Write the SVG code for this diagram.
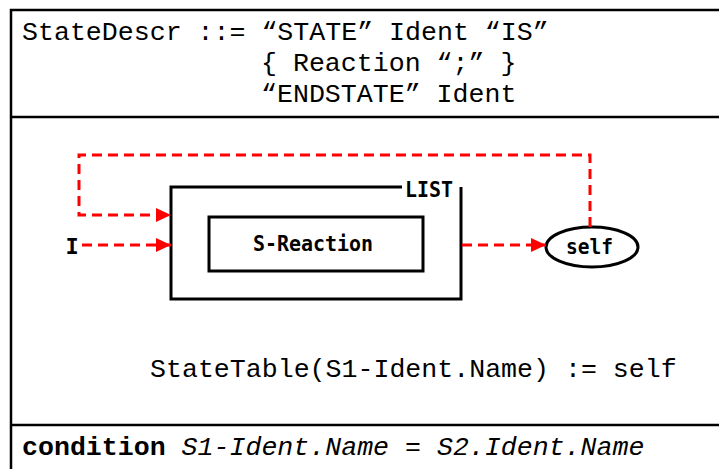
<svg xmlns="http://www.w3.org/2000/svg" width="719" height="469" viewBox="0 0 719 469">
  <defs>
    <style>
      .frame { fill: none; stroke: #000; stroke-width: 2.5; }
      .box { fill: none; stroke: #000; stroke-width: 3; }
      .flow { fill: none; stroke: #ff0000; stroke-width: 3; stroke-dasharray: 10 6; }
      .code { font-family: "Liberation Mono", "Courier New", monospace; font-size: 26.6px; fill: #000; }
      .lbl { font-family: "DejaVu Sans Mono", "Liberation Mono", monospace; font-weight: bold; font-size: 22px; fill: #000; }
    </style>
    <marker id="arrow" markerUnits="userSpaceOnUse" markerWidth="16" markerHeight="16" refX="15" refY="7" orient="auto">
      <path d="M0,0 L15,7 L0,14 Z" fill="#ff0000"/>
    </marker>
  </defs>

  <rect width="719" height="469" fill="#fff"/>

  <!-- outer frame with section dividers -->
  <g id="frame">
    <path class="frame" d="M730,10 H11 V480"/>
    <line class="frame" x1="11" y1="117" x2="730" y2="117"/>
    <line class="frame" x1="11" y1="425" x2="730" y2="425"/>
  </g>

  <!-- grammar rule -->
  <g id="rule">
    <text class="code" x="22" y="40" xml:space="preserve">StateDescr ::= “STATE” Ident “IS”</text>
    <text class="code" x="261" y="71" xml:space="preserve">{ Reaction “;” }</text>
    <text class="code" x="261" y="102" xml:space="preserve">“ENDSTATE” Ident</text>
  </g>

  <!-- LIST container -->
  <g id="list">
    <path class="box" d="M402,187 H171 V299 H461 V187"/>
    <text class="lbl" x="405" y="197" textLength="48" lengthAdjust="spacingAndGlyphs">LIST</text>
  </g>

  <!-- S-Reaction node -->
  <g id="s-reaction">
    <rect class="box" x="209" y="217" width="214" height="54"/>
    <text class="lbl" x="253" y="251" textLength="120" lengthAdjust="spacingAndGlyphs">S-Reaction</text>
  </g>

  <!-- self node -->
  <g id="self">
    <ellipse class="box" cx="592" cy="247" rx="46" ry="20"/>
    <text class="lbl" x="566" y="254" textLength="47" lengthAdjust="spacingAndGlyphs">self</text>
  </g>

  <!-- input label -->
  <g id="input">
    <text class="lbl" x="72" y="254" text-anchor="middle">I</text>
  </g>

  <!-- connectors -->
  <g id="connectors">
    <path class="flow" d="M590,227 V155 H79 V215 H171" marker-end="url(#arrow)"/>
    <path class="flow" d="M82,245 H171" marker-end="url(#arrow)"/>
    <path class="flow" d="M462,245 H546" marker-end="url(#arrow)"/>
  </g>

  <!-- assignment -->
  <g id="assignment">
    <text class="code" x="150" y="377" xml:space="preserve">StateTable(S1-Ident.Name) := self</text>
  </g>

  <!-- condition -->
  <g id="condition">
    <text class="code" x="22" y="455" xml:space="preserve"><tspan font-weight="bold">condition</tspan> <tspan font-style="italic">S1-Ident.Name = S2.Ident.Name</tspan></text>
  </g>
</svg>
